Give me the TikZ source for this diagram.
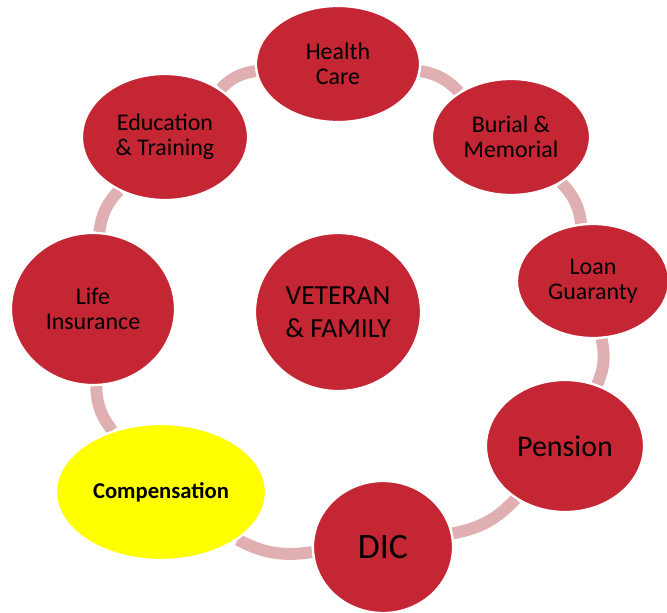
\documentclass[tikz,border=0pt]{standalone}
\usepackage{fontspec}
\setmainfont{Carlito}
\usepackage{tikz}
\usetikzlibrary{shapes.geometric,backgrounds}
\definecolor{benred}{RGB}{196,38,51}
\definecolor{benlink}{RGB}{223,175,177}
\definecolor{benyellow}{RGB}{255,255,0}
\tikzset{
    benefit/.style={
        ellipse,
        draw=white,
        line width=1.6pt,
        fill=benred,
        inner sep=0pt,
        align=center,
        text=black,
        font=\fontsize{17}{18}\selectfont
    },
    link/.style={
        draw=benlink,
        line width=8.5pt,
        bend left=18
    }
}

\begin{document}
\begin{tikzpicture}[x=0.025cm, y=-0.025cm]
    \useasboundingbox (0,0) rectangle (667,613);
    % Vertices
    \node[benefit, minimum width=164*0.025cm, minimum height=116*0.025cm] (hc) at (338,64) {Health\\Care};
    \node[benefit, minimum width=158*0.025cm, minimum height=116*0.025cm] (bm) at (511,137) {Burial \&\\Memorial};
    \node[benefit, minimum width=152*0.025cm, minimum height=114*0.025cm] (lg) at (593,281) {Loan\\Guaranty};
    \node[benefit, minimum width=158*0.025cm, minimum height=132*0.025cm,
          font=\fontsize{21.3}{22}\selectfont] (pen) at (565,446) {Pension};
    \node[benefit, minimum width=140*0.025cm, minimum height=132*0.025cm,
          font=\fontsize{25.4}{26}\selectfont] (dic) at (383,547) {DIC};
    \node[benefit, fill=benyellow, minimum width=210*0.025cm, minimum height=136*0.025cm,
          font=\fontsize{16.1}{17}\selectfont\bfseries] (comp) at (161,492) {Compensation};
    \node[benefit, minimum width=164*0.025cm, minimum height=152*0.025cm] (li) at (93,309) {Life\\Insurance};
    \node[benefit, minimum width=166*0.025cm, minimum height=126*0.025cm] (edu) at (165,137) {Education\\\& Training};
    \node[benefit, minimum width=166*0.025cm, minimum height=158*0.025cm,
          font=\fontsize{19.6}{23.5}\selectfont] (vf) at (338,312) {VETERAN\\\& FAMILY};

    % Edges
    \begin{scope}[on background layer]
        \draw[link] (hc) to (bm);
        \draw[link] (bm) to (lg);
        \draw[link] (lg) to (pen);
        \draw[link] (pen) to (dic);
        \draw[link] (dic) to (comp);
        \draw[link] (comp) to (li);
        \draw[link] (li) to (edu);
        \draw[link] (edu) to (hc);
    \end{scope}
\end{tikzpicture}
\end{document}
